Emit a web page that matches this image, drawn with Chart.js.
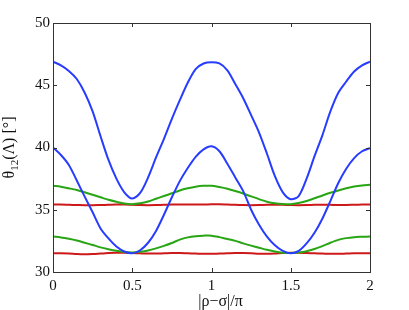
<!doctype html>
<html lang="en">
<head>
<meta charset="utf-8">
<title>theta12 vs rho-sigma</title>
<script src="https://cdn.jsdelivr.net/npm/chart.js@4.4.0/dist/chart.umd.min.js"></script>
<style>
  html, body { margin: 0; padding: 0; background: #fff; }
  #wrap { width: 409px; height: 310px; }
</style>
</head>
<body>
<div id="wrap"><canvas id="chart" width="409" height="310"></canvas></div>
<script>
// x grid |rho-sigma|/pi, read every 0.05
var xValues = [0, 0.05, 0.1, 0.15, 0.2, 0.25, 0.3, 0.35, 0.4, 0.45, 0.5, 0.55, 0.6, 0.65, 0.7, 0.75, 0.8, 0.85, 0.9, 0.95,
  1, 1.05, 1.1, 1.15, 1.2, 1.25, 1.3, 1.35, 1.4, 1.45, 1.5, 1.55, 1.6, 1.65, 1.7, 1.75, 1.8, 1.85, 1.9, 1.95, 2];

var blueUpper = [46.9, 46.6, 46.15, 45.5, 44.4, 42.9, 40.9, 39.0, 37.5, 36.4, 35.9, 36.35, 37.6, 39.2, 40.7, 42.3, 43.8, 45.2, 46.3, 46.75,
  46.85, 46.75, 46.2, 45.1, 43.96, 42.6, 41.2, 39.5, 37.7, 36.4, 35.85, 36.1, 37.5, 39.3, 41.0, 42.9, 44.4, 45.3, 46.1, 46.6, 46.9];
var blueLower = [40.0, 39.4, 38.6, 37.35, 36.05, 34.8, 33.5, 32.7, 32.05, 31.65, 31.5, 31.75, 32.35, 33.3, 34.6, 36.0, 37.3, 38.35, 39.25, 39.85,
  40.1, 39.7, 38.7, 37.6, 36.5, 35.0, 33.8, 32.85, 32.15, 31.7, 31.5, 31.7, 32.3, 33.15, 34.3, 35.7, 37.15, 38.3, 39.15, 39.7, 39.95];
var greenUpper = [36.92, 36.85, 36.72, 36.58, 36.4, 36.2, 36.0, 35.8, 35.64, 35.5, 35.45, 35.52, 35.66, 35.88, 36.1, 36.32, 36.55, 36.72, 36.85, 36.92,
  36.93, 36.82, 36.68, 36.5, 36.3, 36.07, 35.85, 35.65, 35.52, 35.46, 35.45, 35.55, 35.7, 35.92, 36.15, 36.36, 36.55, 36.72, 36.86, 36.95, 37.0];
var greenLower = [32.85, 32.78, 32.67, 32.53, 32.35, 32.17, 31.98, 31.83, 31.7, 31.6, 31.56, 31.62, 31.73, 31.9, 32.1, 32.33, 32.6, 32.78, 32.88, 32.92,
  32.92, 32.8, 32.65, 32.5, 32.3, 32.12, 31.95, 31.78, 31.64, 31.55, 31.53, 31.57, 31.67, 31.85, 32.08, 32.35, 32.58, 32.72, 32.8, 32.83, 32.85];
var redUpper = [35.42, 35.42, 35.4, 35.38, 35.36, 35.36, 35.38, 35.4, 35.42, 35.42, 35.4, 35.38, 35.37, 35.38, 35.4, 35.42, 35.43, 35.43, 35.42, 35.42,
  35.44, 35.44, 35.42, 35.4, 35.38, 35.37, 35.38, 35.4, 35.41, 35.4, 35.38, 35.37, 35.38, 35.4, 35.41, 35.4, 35.38, 35.38, 35.4, 35.42, 35.43];
var redLower = [31.5, 31.5, 31.48, 31.44, 31.42, 31.44, 31.48, 31.52, 31.54, 31.54, 31.52, 31.5, 31.48, 31.48, 31.5, 31.52, 31.52, 31.5, 31.48, 31.46,
  31.46, 31.48, 31.5, 31.52, 31.52, 31.5, 31.47, 31.46, 31.48, 31.52, 31.54, 31.54, 31.52, 31.5, 31.48, 31.46, 31.46, 31.48, 31.5, 31.5, 31.5];

var xTicks = [0, 0.5, 1, 1.5, 2];
var yTicks = [30, 35, 40, 45, 50];

var BLUE = 'rgb(40,60,255)', GREEN = 'rgb(40,165,20)', RED = 'rgb(205,25,25)';
var serif = '"Liberation Serif", "DejaVu Serif", serif';

function pts(ys) {
  return xValues.map(function (x, i) { return { x: x, y: ys[i] }; });
}
function line(ys, color) {
  return { data: pts(ys), borderColor: color, borderWidth: 2, pointRadius: 0, tension: 0.3, fill: false };
}

// box, inward ticks and axis titles
var frame = {
  id: 'frame',
  afterDraw: function (chart) {
    var c = chart.ctx, a = chart.chartArea, xs = chart.scales.x, ys = chart.scales.y;
    c.save();
    c.strokeStyle = '#333';
    c.lineWidth = 1;
    c.strokeRect(Math.round(a.left) + 0.5, Math.round(a.top) + 0.5, Math.round(a.right - a.left), Math.round(a.bottom - a.top));
    c.beginPath();
    xTicks.forEach(function (t) {
      var px = Math.round(xs.getPixelForValue(t)) + 0.5;
      c.moveTo(px, a.bottom); c.lineTo(px, a.bottom - 4);
      c.moveTo(px, a.top); c.lineTo(px, a.top + 4);
    });
    yTicks.forEach(function (t) {
      var py = Math.round(ys.getPixelForValue(t)) + 0.5;
      c.moveTo(a.left, py); c.lineTo(a.left + 4, py);
      c.moveTo(a.right, py); c.lineTo(a.right - 4, py);
    });
    c.stroke();

    c.fillStyle = '#111';
    // x title
    c.font = '16px ' + serif;
    c.textAlign = 'center';
    c.textBaseline = 'alphabetic';
    c.fillText('|ρ−σ|/π', (a.left + a.right) / 2 + 9, 306);

    // y title with subscript, rotated
    c.translate(14, (a.top + a.bottom) / 2);
    c.rotate(-Math.PI / 2);
    var big = '16px ' + serif, small = '11px ' + serif;
    c.font = big; var w1 = c.measureText('θ').width;
    c.font = small; var w2 = c.measureText('12').width;
    c.font = big; var w3 = c.measureText('(Λ) [°]').width;
    var x0 = -(w1 + w2 + w3) / 2;
    c.textAlign = 'left';
    c.font = big; c.fillText('θ', x0, 0);
    c.font = small; c.fillText('12', x0 + w1, 4);
    c.font = big; c.fillText('(Λ) [°]', x0 + w1 + w2, 0);
    c.restore();
  }
};

new Chart(document.getElementById('chart'), {
  type: 'line',
  data: {
    datasets: [
      line(blueUpper, BLUE), line(blueLower, BLUE),
      line(greenUpper, GREEN), line(greenLower, GREEN),
      line(redUpper, RED), line(redLower, RED)
    ]
  },
  options: {
    responsive: false,
    animation: false,
    events: [],
    layout: { padding: { top: 23, right: 39, left: 0, bottom: 0 } },
    plugins: { legend: { display: false }, tooltip: { enabled: false } },
    scales: {
      x: {
        type: 'linear', min: 0, max: 2,
        grid: { display: false, drawTicks: false, tickLength: 0 }, border: { display: false },
        afterBuildTicks: function (s) { s.ticks = xTicks.map(function (v) { return { value: v }; }); },
        afterFit: function (s) { s.height = 38; },
        ticks: { padding: 5, color: '#111', font: { family: serif, size: 15 }, maxRotation: 0,
          callback: function (v) { return String(v); } }
      },
      y: {
        type: 'linear', min: 30, max: 50,
        grid: { display: false, drawTicks: false, tickLength: 0 }, border: { display: false },
        afterBuildTicks: function (s) { s.ticks = yTicks.map(function (v) { return { value: v }; }); },
        afterFit: function (s) { s.width = 53; },
        ticks: { padding: 3, color: '#111', font: { family: serif, size: 15 } }
      }
    }
  },
  plugins: [frame]
});
</script>
</body>
</html>
